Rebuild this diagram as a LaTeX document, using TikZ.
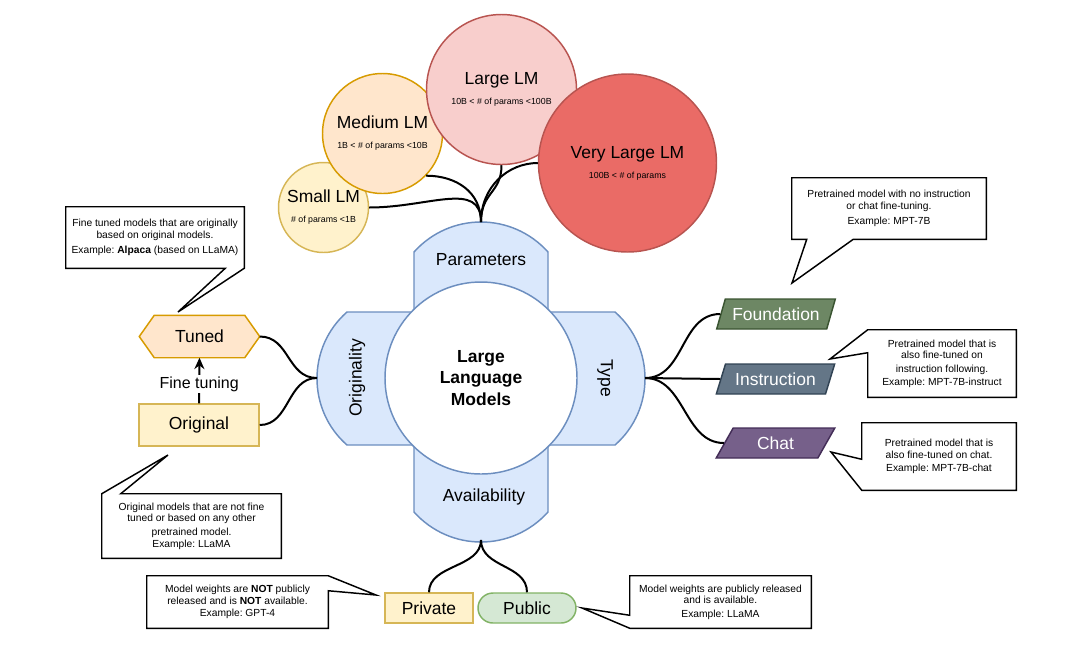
\documentclass[tikz,border=0pt]{standalone}
\usepackage{fontspec}
\setmainfont{Liberation Sans}
\usetikzlibrary{calc,shapes.geometric,backgrounds,arrows.meta}
\frenchspacing

\definecolor{petalfill}{HTML}{DAE8FC}
\definecolor{petalline}{HTML}{6C8EBF}
\definecolor{yelfill}{HTML}{FFF2CC}
\definecolor{yelline}{HTML}{D6B656}
\definecolor{orgfill}{HTML}{FFE6CC}
\definecolor{orgline}{HTML}{D79B00}
\definecolor{redfill}{HTML}{F8CECC}
\definecolor{redline}{HTML}{B85450}
\definecolor{vredfill}{HTML}{EA6B66}
\definecolor{grnfill}{HTML}{D5E8D4}
\definecolor{grnline}{HTML}{82B366}
\definecolor{foundfill}{HTML}{6D8764}
\definecolor{foundline}{HTML}{3A5431}
\definecolor{instrfill}{HTML}{647687}
\definecolor{instrline}{HTML}{314354}
\definecolor{chatfill}{HTML}{76608A}
\definecolor{chatline}{HTML}{432D57}

\newcommand{\labelfnt}{\fontsize{13.1}{16}\selectfont}
\newcommand{\subfnt}{\fontsize{6.6}{8}\selectfont}
\newcommand{\notefnt}{\fontsize{7.7}{8.7}\selectfont}

\tikzset{
  size/.style={circle,draw,line width=1.1pt,minimum size=#1,inner sep=0pt,align=center,font=\labelfnt},
  branch/.style={line width=1.5pt},
  box/.style={rectangle,line width=1.1pt,minimum height=22.5pt,inner sep=0pt,font=\labelfnt},
  para/.style={trapezium,trapezium left angle=60,trapezium right angle=120,trapezium stretches=true,
    line width=1.1pt,minimum width=89.25pt,minimum height=22.5pt,inner sep=0pt,text=white,font=\labelfnt},
  note/.style={minimum width=#1,align=center,inner sep=0pt,font=\notefnt},
  callout/.style={line width=1.1pt},
}

\begin{document}
\begin{tikzpicture}[x=0.75pt,y=-0.75pt]
\useasboundingbox (0,0) rectangle (1080,644);

% cross of the four branches
\draw[fill=petalfill,draw=petalline,line width=1.1pt]
  (414,252) .. controls (450,212) and (512,212) .. (548,252)
  -- (548,312) -- (615,312)
  .. controls (655,347) and (655,410) .. (615,445)
  -- (548,445) -- (548,512)
  .. controls (512,552) and (450,552) .. (414,512)
  -- (414,445) -- (347,445)
  .. controls (307,410) and (307,347) .. (347,312)
  -- (414,312) -- cycle;
\node[circle,fill=white,draw=petalline,line width=1.1pt,minimum size=144pt,inner sep=0pt,
  align=center,font=\labelfnt\bfseries] (llm) at (481,378) {Large\\Language\\Models};
\node[font=\labelfnt] (par) at (481,260) {Parameters};
\node[font=\labelfnt] (avail) at (484,497) {Availability};
\node[font=\labelfnt,rotate=90] (orig) at (357,378) {Originality};
\node[font=\labelfnt,rotate=-90] (type) at (605,378) {Type};
\coordinate (parTop) at (481,222);
\coordinate (availBot) at (481,540);
\coordinate (origLeft) at (317,378);
\coordinate (typeRight) at (645,378);

% parameters
\node[size=67.5pt,fill=yelfill,draw=yelline] (small) at (323.5,207.5)
  {Small LM\\[-1pt]{\subfnt \# of params <1B}};
\node[size=90pt,fill=orgfill,draw=orgline] (medium) at (382.5,133.5)
  {Medium LM\\[-1pt]{\subfnt 1B < \# of params <10B}};
\node[size=112.5pt,fill=redfill,draw=redline] (large) at (501.5,89.5)
  {Large LM\\[-1pt]{\subfnt 10B < \# of params <100B}};
\node[size=133.5pt,fill=vredfill,draw=redline] (vlarge) at (627.5,163)
  {Very Large LM\\[-1pt]{\subfnt 100B < \# of params}};
\draw[branch] (small.east) .. controls +(60,0) and +(0,-42) .. (parTop);
\draw[branch] (medium.-44) .. controls +(30,0) and +(0,-30) .. (parTop);
\draw[branch] (large.south) .. controls +(0,28) and +(0,-30) .. (parTop);
\draw[branch] (vlarge.west) .. controls +(-30,0) and +(0,-35) .. (parTop);

% originality
\node[box,minimum width=89.25pt,minimum height=30.75pt] (tuned) at (199.5,336.5) {Tuned};
\begin{scope}[on background layer]
\draw[fill=orgfill,draw=orgline,line width=1.1pt] (tuned.west) -- ($(tuned.north west)+(15,0)$)
  -- ($(tuned.north east)+(-15,0)$) -- (tuned.east) -- ($(tuned.south east)+(-15,0)$)
  -- ($(tuned.south west)+(15,0)$) -- cycle;
\end{scope}
\node[box,fill=yelfill,draw=yelline,minimum width=90pt,minimum height=31.5pt] (original) at (199,425) {Original};
\draw[branch,-{Stealth[length=8.5pt,width=7.5pt]}] (original.north) -- node[pos=0.42,fill=white,inner sep=1pt,
  font=\fontsize{12}{14}\selectfont] (ftune) {Fine tuning} (tuned.south);
\draw[branch] (tuned.east) .. controls +(30,0) and +(-30,0) .. (origLeft);
\draw[branch] (original.east) .. controls +(30,0) and +(-30,0) .. (origLeft);

% type
\node[para,fill=foundfill,draw=foundline] (found) at (776,314) {Foundation};
\node[para,fill=instrfill,draw=instrline] (instr) at (775.5,379) {Instruction};
\node[para,fill=chatfill,draw=chatline] (chat) at (775.5,443) {Chat};
\draw[branch] (typeRight) .. controls +(40,0) and +(-40,0) .. (found.west);
\draw[branch] (typeRight) -- (instr.west);
\draw[branch] (typeRight) .. controls +(40,0) and +(-40,0) .. (chat.west);

% availability
\node[box,fill=yelfill,draw=yelline,minimum width=66pt] (private) at (429,608) {Private};
\node[box,fill=grnfill,draw=grnline,minimum width=73.5pt,rounded corners=11.25pt] (public) at (527,608) {Public};
\draw[branch] (availBot) .. controls +(0,28) and +(0,-28) .. (private.north);
\draw[branch] (availBot) .. controls +(0,28) and +(0,-28) .. (public.north);

% callouts
\node[note=133.5pt,minimum height=45.75pt] (tunedNote) at (155,237.5)
  {Fine tuned models that are originally\\based on original models.\\[2.5pt]Example: \textbf{Alpaca} (based on LLaMA)};
\coordinate (tunedTip) at (178,312);
\draw[callout] (tunedNote.north west) -- (tunedNote.north east) -- (tunedNote.south east) -- (tunedTip)
  -- ($(tunedNote.south east)+(-19,0)$) -- (tunedNote.south west) -- cycle;

\node[note=134.25pt,minimum height=48pt] (origNote) at (191.5,526)
  {Original models that are not fine\\tuned or based on any other\\[1.5pt]pretrained model.\\Example: LLaMA};
\coordinate (origTip) at (168,455);
\draw[callout] (origNote.north west) -- (origTip) -- ($(origNote.north west)+(19,0)$) -- (origNote.north east)
  -- (origNote.south east) -- (origNote.south west) -- cycle;

\node[note=135.75pt,minimum height=39pt] (privNote) at (237.5,602)
  {Model weights are \textbf{NOT} publicly\\released and is \textbf{NOT} available.\\[1pt]Example: GPT-4};
\coordinate (privTip) at (376,595);
\draw[callout] (privNote.north west) -- (privNote.north east) -- (privTip) -- ($(privNote.north east)+(0,15)$)
  -- (privNote.south east) -- (privNote.south west) -- cycle;

\node[note=135.75pt,minimum height=39pt] (pubNote) at (720.5,602)
  {Model weights are publicly released\\and is available.\\[1.5pt]Example: LLaMA};
\coordinate (pubTip) at (582,608);
\draw[callout] (pubNote.north west) -- (pubNote.north east) -- (pubNote.south east) -- (pubNote.south west)
  -- (pubTip) -- ($(pubNote.south west)+(0,-13)$) -- cycle;

\node[note=145.5pt,minimum height=45.75pt] (foundNote) at (889,208.5)
  {Pretrained model with no instruction\\or chat fine-tuning.\\[2.5pt]Example: MPT-7B};
\coordinate (foundTip) at (792,283);
\draw[callout] (foundNote.north west) -- (foundNote.north east) -- (foundNote.south east)
  -- ($(foundNote.south east)+(-133,0)$) -- (foundTip) -- ($(foundNote.south west)+(15,0)$)
  -- (foundNote.south west) -- cycle;

\node[note=111pt,minimum height=50.25pt] (instrNote) at (942,363.5)
  {Pretrained model that is\\also fine-tuned on\\[1.5pt]instruction following.\\[1pt]Example: MPT-7B-instruct};
\coordinate (instrTip) at (830,359);
\draw[callout] (instrNote.north west) -- (instrNote.north east) -- (instrNote.south east) -- (instrNote.south west)
  -- ($(instrNote.north west)+(0,23)$) -- (instrTip) -- cycle;

\node[note=115.5pt,minimum height=50.25pt] (chatNote) at (939,456.5)
  {Pretrained model that is\\also fine-tuned on chat.\\[1pt]Example: MPT-7B-chat};
\coordinate (chatTip) at (831,452);
\draw[callout] (chatNote.north west) -- (chatNote.north east) -- (chatNote.south east) -- (chatNote.south west)
  -- (chatTip) -- ($(chatNote.south west)+(0,-31)$) -- cycle;
\end{tikzpicture}
\end{document}
